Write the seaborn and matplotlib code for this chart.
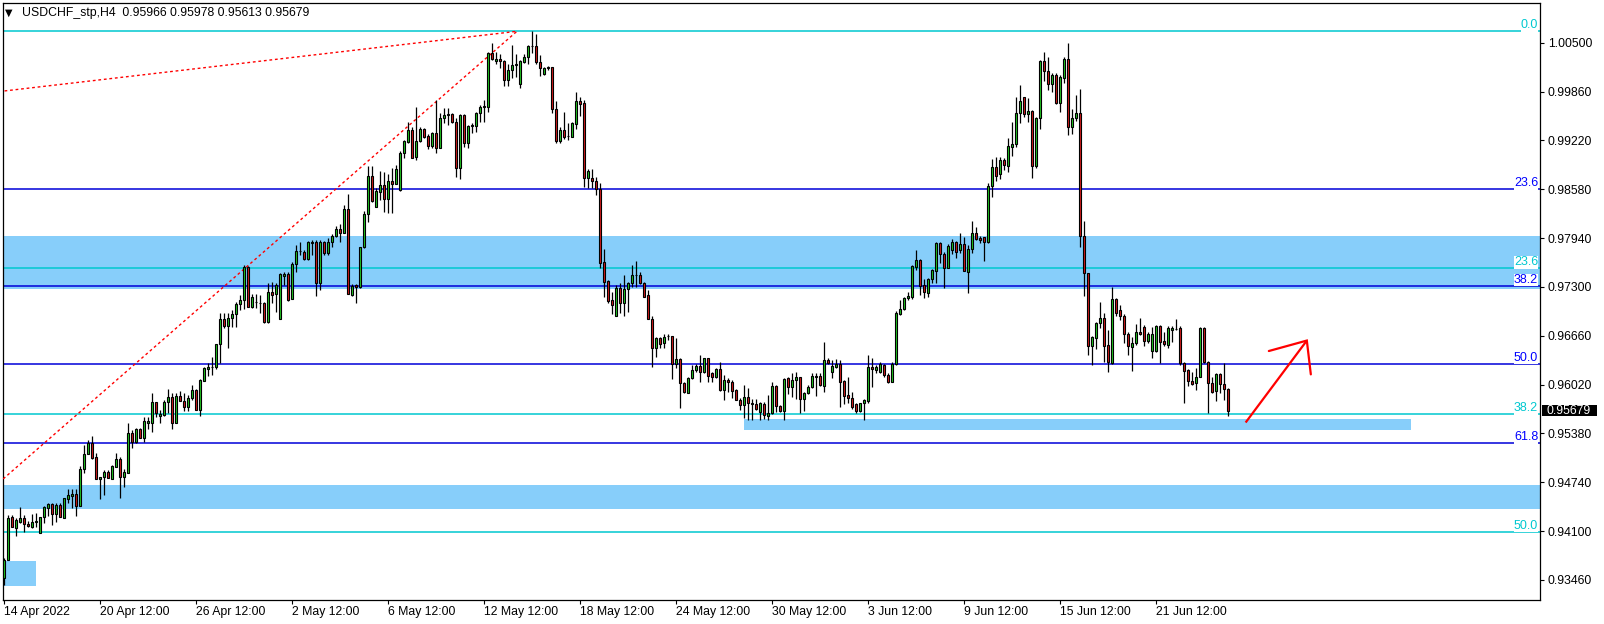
import matplotlib
matplotlib.use("Agg")
import matplotlib.pyplot as plt
import matplotlib.transforms as mtrans
from matplotlib.patches import Rectangle
import numpy as np
import pandas as pd
import seaborn as sns

# ---------------- data (prices in points, 1 point = 0.00001) ----------------
open_pts = [
    93485, 93721, 94284, 94140, 94219, 94271, 94192, 94153, 94219, 94075,
    94284, 94402, 94455, 94324, 94441, 94271, 94521, 94560, 94586, 94428,
    94914, 95110, 95254, 95071, 94783, 94809, 94874, 94783, 94940, 95045,
    94809, 94861, 95386, 95268, 95438, 95320, 95517, 95517, 95792, 95608,
    95621, 95792, 95857, 95517, 95870, 95805, 95726, 95844, 95948, 95687,
    96066, 96224, 96250, 96250, 96551, 96879, 96787, 96892, 96945, 97076,
    97128, 97561, 97036, 97102, 97089, 97089, 96840, 97233, 97207, 96879,
    97443, 97469, 97142, 97600, 97771, 97757, 97666, 97875, 97889, 97351,
    97889, 97744, 97889, 97967, 98059, 98007, 98321, 97194, 97325, 97299,
    97823, 98256, 98753, 98347, 98543, 98635, 98452, 98687, 98648, 98569,
    99054, 99199, 99356, 99002, 99212, 99369, 99277, 99146, 99317, 99120,
    99513, 99552, 99566, 99461, 98858, 99552, 99185, 99408, 99408, 99579,
    99657, 99657, 100365, 100261, 100287, 100261, 100012, 100143, 100208, 99959,
    100247, 100313, 100457, 100457, 100247, 100090, 100182, 100182, 99631, 99212,
    99356, 99277, 99264, 99434, 99736, 99710, 98727, 98727, 98687, 98583,
    97626, 97377, 97128, 96918, 97286, 97089, 97273, 97351, 97456, 97456,
    97351, 97194, 96879, 96499, 96630, 96564, 96656, 96656, 96289, 96355,
    96040, 95909, 96106, 96211, 96263, 96184, 96368, 96171, 96119, 96224,
    95948, 96080, 96053, 95948, 95818, 95752, 95857, 95779, 95766, 95661,
    95766, 95608, 95648, 96001, 95739, 95674, 96106, 95988, 96080, 96119,
    95831, 95909, 95988, 96119, 96132, 96001, 96342, 96184, 96250, 96289,
    96066, 95883, 95844, 95766, 95674, 95779, 95805, 96250, 96211, 96184,
    96276, 96145, 96053, 96289, 96945, 97010, 97155, 97168, 97561, 97653,
    97325, 97220, 97404, 97508, 97875, 97731, 97548, 97784, 97889, 97784,
    97862, 97495, 97797, 98007, 97941, 97954, 97889, 98622, 98871, 98779,
    98963, 98884, 99133, 99172, 99579, 99789, 99566, 99605, 98884, 99513,
    100261, 100129, 99959, 100077, 99710, 100038, 100287, 99395, 99513, 99579,
    97967, 97482, 96525, 96630, 96827, 96892, 96538, 96302, 97142, 96997,
    96918, 96682, 96512, 96564, 96709, 96774, 96591, 96460, 96460, 96787,
    96591, 96538, 96735, 96748, 96761, 96302, 96211, 96066, 96040, 96119,
    96761, 96315, 96040, 95935, 96158, 96027, 95966,
]
high_pts = [
    93747, 94310, 94310, 94271, 94415, 94310, 94232, 94324, 94337, 94284,
    94428, 94468, 94468, 94468, 94468, 94534, 94652, 94652, 94652, 94953,
    95228, 95294, 95346, 95123, 94809, 94901, 94901, 94966, 95123, 95071,
    94914, 95517, 95425, 95451, 95451, 95595, 95595, 95909, 95792, 95687,
    95818, 95962, 95909, 95909, 95935, 95909, 95883, 96014, 95962, 96093,
    96250, 96302, 96381, 96551, 96958, 96958, 96958, 96997, 97102, 97194,
    97587, 97574, 97207, 97207, 97194, 97102, 97351, 97364, 97351, 97482,
    97495, 97495, 97626, 97849, 97889, 97784, 97902, 97915, 97915, 97915,
    97902, 97941, 97993, 98098, 98124, 98373, 98517, 97338, 97338, 97823,
    98295, 98884, 98884, 98596, 98818, 98805, 98779, 98858, 98897, 99081,
    99225, 99461, 99395, 99657, 99395, 99382, 99303, 99330, 99749, 99579,
    99644, 99644, 99579, 99513, 99566, 99566, 99421, 99448, 99592, 99683,
    99749, 100378, 100496, 100378, 100352, 100274, 100221, 100470, 100352, 100274,
    100352, 100470, 100654, 100614, 100339, 100182, 100195, 100182, 99736, 99395,
    99592, 99448, 99461, 99854, 99789, 99749, 98845, 98845, 98740, 98661,
    97797, 97391, 97233, 97325, 97351, 97456, 97364, 97587, 97640, 97495,
    97364, 97259, 96918, 96643, 96643, 96682, 96682, 96656, 96630, 96368,
    96053, 96119, 96276, 96289, 96407, 96368, 96368, 96184, 96237, 96315,
    96145, 96106, 96080, 95962, 95844, 96014, 95975, 95831, 95831, 95792,
    95792, 95883, 96053, 96014, 95752, 96106, 96119, 96171, 96184, 96119,
    95922, 96014, 96171, 96171, 96171, 96578, 96368, 96342, 96355, 96342,
    96080, 96119, 95922, 95779, 95779, 95831, 96407, 96368, 96276, 96315,
    96289, 96171, 96315, 96984, 97128, 97168, 97233, 97587, 97784, 97666,
    97404, 97417, 97535, 97889, 97889, 97757, 97862, 97928, 97902, 98007,
    97954, 97849, 98164, 98085, 97967, 97954, 98661, 98976, 99002, 99002,
    98989, 99251, 99461, 99789, 99946, 99789, 99776, 99618, 99526, 100274,
    100378, 100313, 100103, 100103, 100077, 100313, 100496, 99631, 99815, 99894,
    98164, 97482, 96656, 96840, 97102, 96958, 96735, 97299, 97155, 97062,
    96945, 96709, 96643, 96813, 96892, 96800, 96709, 96774, 96800, 96800,
    96709, 96787, 96787, 96879, 96787, 96315, 96224, 96184, 96237, 96774,
    96774, 96329, 96119, 96171, 96171, 96302, 95978,
]
low_pts = [
    93393, 93721, 94153, 94035, 94206, 94088, 94153, 94140, 94153, 94075,
    94206, 94297, 94179, 94219, 94284, 94271, 94468, 94402, 94297, 94428,
    94861, 95110, 95045, 94783, 94521, 94573, 94796, 94783, 94940, 94534,
    94678, 94861, 95189, 95254, 95320, 95268, 95438, 95399, 95595, 95517,
    95608, 95648, 95438, 95517, 95805, 95674, 95674, 95818, 95687, 95608,
    96066, 96132, 96145, 96224, 96302, 96761, 96499, 96774, 96774, 96997,
    97010, 97036, 97023, 97023, 96958, 96827, 96827, 97089, 96971, 96879,
    97325, 97115, 97142, 97495, 97718, 97653, 97653, 97718, 97181, 97259,
    97718, 97718, 97823, 97954, 97889, 98007, 97207, 97181, 97089, 97286,
    97810, 98151, 98413, 98347, 98439, 98282, 98269, 98269, 98648, 98556,
    98989, 99185, 98989, 98963, 99199, 99251, 99107, 99120, 99054, 99120,
    99448, 99421, 99448, 98740, 98714, 99133, 99120, 99317, 99330, 99461,
    99461, 99592, 100274, 100221, 100169, 99933, 99933, 100038, 100051, 99907,
    100234, 100221, 100365, 100221, 100064, 100077, 100143, 99579, 99185, 99185,
    99238, 99225, 99264, 99369, 99539, 98609, 98596, 98596, 98504, 97548,
    97168, 97089, 96945, 96918, 96958, 96918, 96971, 97299, 97299, 97338,
    97168, 96879, 96250, 96381, 96499, 96499, 96604, 96093, 96237, 95713,
    95909, 95909, 96093, 96184, 96053, 96171, 96053, 96053, 96106, 95935,
    95818, 95922, 95844, 95818, 95687, 95582, 95556, 95556, 95687, 95556,
    95569, 95556, 95635, 95661, 95661, 95556, 95896, 95857, 95831, 95648,
    95674, 95896, 95975, 95870, 96001, 95922, 96289, 96106, 96237, 95726,
    95766, 95779, 95700, 95648, 95661, 95556, 95779, 95988, 96171, 96171,
    96119, 96040, 96053, 96276, 96931, 96997, 97128, 97142, 97522, 97194,
    97155, 97168, 97351, 97351, 97613, 97286, 97548, 97731, 97679, 97744,
    97508, 97220, 97744, 97915, 97875, 97640, 97875, 98478, 98687, 98714,
    98832, 98805, 99015, 99133, 99448, 99526, 99461, 98727, 98858, 99369,
    99998, 99880, 99854, 99697, 99592, 99972, 99290, 99303, 99474, 97823,
    97181, 96407, 96276, 96486, 96761, 96315, 96184, 96289, 96918, 96866,
    96564, 96407, 96197, 96538, 96669, 96525, 96564, 96368, 96446, 96302,
    96525, 96499, 96578, 96735, 96276, 95779, 96001, 96014, 95948, 96119,
    96302, 95648, 95909, 95805, 95909, 95818, 95613,
]
close_pts = [
    93721, 94271, 94153, 94245, 94271, 94192, 94166, 94219, 94232, 94284,
    94415, 94455, 94324, 94441, 94284, 94534, 94573, 94586, 94428, 94914,
    95110, 95254, 95058, 94783, 94809, 94874, 94796, 94953, 95045, 94809,
    94874, 95386, 95268, 95438, 95320, 95543, 95543, 95792, 95648, 95635,
    95792, 95857, 95517, 95870, 95805, 95726, 95844, 95948, 95687, 96080,
    96237, 96250, 96250, 96551, 96879, 96787, 96892, 96945, 97076, 97128,
    97561, 97036, 97168, 97102, 97089, 96840, 97233, 97194, 97325, 97469,
    97469, 97128, 97600, 97771, 97771, 97666, 97889, 97889, 97351, 97889,
    97744, 97889, 97967, 98059, 98007, 98321, 97207, 97312, 97299, 97823,
    98256, 98753, 98426, 98556, 98635, 98452, 98687, 98648, 98845, 99054,
    99212, 99356, 98989, 99212, 99369, 99264, 99146, 99317, 99120, 99513,
    99552, 99566, 99461, 98858, 99552, 99185, 99408, 99421, 99579, 99657,
    99670, 100365, 100287, 100287, 100261, 100012, 100143, 100208, 100221, 100261,
    100313, 100457, 100457, 100247, 100169, 100169, 100169, 99631, 99212, 99356,
    99264, 99277, 99448, 99736, 99697, 98727, 98818, 98687, 98583, 97613,
    97364, 97115, 97062, 97286, 97089, 97273, 97351, 97456, 97456, 97351,
    97168, 96879, 96499, 96630, 96551, 96643, 96656, 96289, 96355, 96040,
    95922, 96106, 96211, 96263, 96184, 96368, 96132, 96119, 96224, 95948,
    96080, 96053, 95935, 95818, 95752, 95857, 95779, 95766, 95700, 95779,
    95621, 95648, 96001, 95739, 95674, 96093, 95988, 96080, 96119, 95831,
    95909, 95988, 96132, 96132, 96014, 96342, 96302, 96263, 96289, 96053,
    95870, 95844, 95726, 95674, 95779, 95818, 96250, 96224, 96250, 96289,
    96145, 96053, 96289, 96958, 97010, 97155, 97181, 97574, 97653, 97312,
    97233, 97404, 97522, 97875, 97731, 97548, 97836, 97889, 97757, 97862,
    97508, 97797, 98007, 97928, 97915, 97889, 98622, 98871, 98753, 98963,
    98897, 99146, 99172, 99579, 99736, 99566, 99605, 98884, 99513, 100261,
    100129, 99959, 100077, 99710, 100051, 100287, 99395, 99513, 99579, 97967,
    97482, 96525, 96643, 96827, 96892, 96525, 96315, 97142, 96958, 96918,
    96682, 96525, 96564, 96709, 96682, 96591, 96682, 96682, 96787, 96578,
    96551, 96761, 96761, 96748, 96302, 96197, 96066, 96027, 96119, 96761,
    96315, 96040, 95922, 96158, 96027, 95962, 95679,
]

x_tick_idx = [0, 24, 48, 72, 96, 120, 144, 168, 192, 216, 240, 264, 288]
x_tick_labels = ["14 Apr 2022", "20 Apr 12:00", "26 Apr 12:00", "2 May 12:00",
                 "6 May 12:00", "12 May 12:00", "18 May 12:00", "24 May 12:00",
                 "30 May 12:00", "3 Jun 12:00", "9 Jun 12:00", "15 Jun 12:00",
                 "21 Jun 12:00"]
y_ticks = [1.00500, 0.99860, 0.99220, 0.98580, 0.97940, 0.97300,
           0.96660, 0.96020, 0.95380, 0.94740, 0.94100, 0.93460]

fib_blue_levels = [0.98579, 0.97311, 0.96289, 0.95250]
fib_blue_labels = ["23.6", "38.2", "50.0", "61.8"]
fib_cyan_levels = [1.00649, 0.97543, 0.95630, 0.94084]
fib_cyan_labels = ["0.0", "23.6", "38.2", "50.0"]

# zones: (low price, high price)
wide_zones = [(0.97268, 0.97967), (0.94384, 0.94703)]
# partial zones: (x start idx, x end idx, low price, high price)
part_zones = [(-0.3, 7.9, 0.93383, 0.93707), (185.0, 351.7, 0.95424, 0.95568)]

# dotted fib trend lines: (idx start, price start, idx end, price end)
trend_lines = [(0.0, 0.99867, 128.2, 1.00649), (0.0, 0.94795, 128.2, 1.00649)]

# red arrow (idx, price)
arrow_shaft_x = [310.4, 325.7]
arrow_shaft_p = [0.95522, 0.96596]
arrow_head_x = [316.2, 325.7, 326.7]
arrow_head_p = [0.96459, 0.96596, 0.96153]

symbol = "USDCHF_stp,H4"

# ---------------- plot ----------------
sns.set_theme(style="white")
plt.rcParams['font.family'] = ['Liberation Sans', 'DejaVu Sans']

df = pd.DataFrame({
    "open": np.array(open_pts) / 1e5,
    "high": np.array(high_pts) / 1e5,
    "low": np.array(low_pts) / 1e5,
    "close": np.array(close_pts) / 1e5,
})
df["idx"] = np.arange(len(df))

W, H = 1604, 624
fig = plt.figure(figsize=(W / 100, H / 100), dpi=100)
fig.patch.set_facecolor("white")
ax = fig.add_axes([3 / W, 24 / H, 1537 / W, 597 / H])
ax.set_facecolor("white")
ax.set_xlim(-0.3, 384.0)
ax.set_ylim(0.93196, 1.01020)

zone_color = "#87cefa"
for lo, hi in wide_zones:
    ax.axhspan(lo, hi, color=zone_color, lw=0, zorder=1)
for x0, x1, lo, hi in part_zones:
    ax.fill_between([x0, x1], [lo, lo], [hi, hi], color=zone_color, lw=0, zorder=1)

blue = "#0000d8"
cyan = "#00c8d0"
trans = mtrans.blended_transform_factory(ax.transAxes, ax.transData)
for lev, lab in zip(fib_blue_levels, fib_blue_labels):
    ax.axhline(lev, color=blue, lw=1.1, zorder=2)
    ax.text(0.9988, lev, lab, transform=trans, ha="right", va="bottom",
            color="#0000ff", fontsize=9,
            bbox=dict(facecolor="white", edgecolor="none", pad=0.2), zorder=3)
for lev, lab in zip(fib_cyan_levels, fib_cyan_labels):
    ax.axhline(lev, color=cyan, lw=1.1, zorder=2)
    ax.text(0.9988, lev, lab, transform=trans, ha="right", va="bottom",
            color=cyan, fontsize=9,
            bbox=dict(facecolor="white", edgecolor="none", pad=0.2), zorder=3)

for xs, ps, xe, pe in trend_lines:
    sns.lineplot(x=[xs - 5, xe], y=[ps - (pe - ps) / (xe - xs) * 5, pe], ax=ax,
                 color="red", lw=1.0, linestyle=(0, (2, 2)), zorder=3)

# candles
green = "#22c822"
red = "#d41c1c"
colors = np.where(df["close"] >= df["open"], green, red)
ax.vlines(df["idx"], df["low"], df["high"], color="black", lw=0.9, zorder=4)
ax.bar(df["idx"], df["close"] - df["open"], bottom=df["open"], width=0.5,
       color=colors, edgecolor="black", linewidth=0.8, zorder=5)

# arrow
ax.plot(arrow_shaft_x, arrow_shaft_p, color="#ff0000", lw=1.6, zorder=6,
        solid_capstyle="butt")
ax.plot(arrow_head_x, arrow_head_p, color="#ff0000", lw=1.6, zorder=6,
        solid_joinstyle="miter")

# axes styling
for s in ax.spines.values():
    s.set_visible(True)
    s.set_color("black")
    s.set_linewidth(0.9)

ax.yaxis.tick_right()
ax.set_yticks(y_ticks)
ax.set_yticklabels([f"{v:.5f}" for v in y_ticks])
ax.tick_params(axis="y", which="both", direction="out", length=2.8, width=0.8,
               pad=2.8, labelsize=8.8, colors="black", right=True, left=False,
               labelright=True, labelleft=False)
ax.set_xticks(x_tick_idx)
ax.set_xticklabels(x_tick_labels, ha="left")
ax.tick_params(axis="x", direction="out", length=3, width=0.8, pad=1.5,
               labelsize=8.8, colors="black", bottom=True)
ax.grid(False)

# last price tag
last = df.iloc[-1]
ax.add_patch(Rectangle((1 + 2 / 1537, last["close"] - 0.00072), 55 / 1537, 0.00146,
                       transform=trans, facecolor="black", edgecolor="none",
                       clip_on=False, zorder=10))
ax.text(1 + 7 / 1537, last["close"], f"{last['close']:.5f}", transform=trans,
        ha="left", va="center", color="white", fontsize=8.8, zorder=11, clip_on=False)

# header
fig.text(5 / W, 1 - 13 / H, "\u25bc", fontsize=7, va="center", ha="left",
         family=["DejaVu Sans"], color="black")
fig.text(22 / W, 1 - 13 / H,
         f"{symbol}  {last['open']:.5f} {last['high']:.5f} {last['low']:.5f} {last['close']:.5f}",
         fontsize=8.8, va="center", ha="left", color="black")

fig.savefig("out.png", dpi=100, facecolor="white")
